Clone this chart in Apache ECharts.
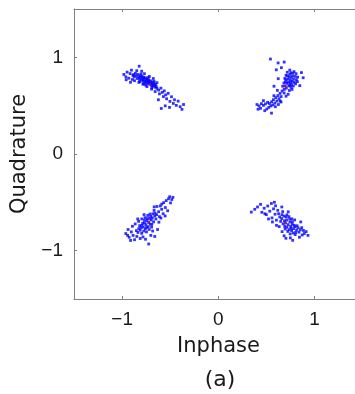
<!DOCTYPE html>
<html>
<head>
<meta charset="utf-8">
<script src="https://cdn.jsdelivr.net/npm/echarts@6/dist/echarts.min.js"></script>
<style>
  html, body { margin: 0; padding: 0; background: #fff; }
  #chart { width: 355px; height: 394px; }
</style>
</head>
<body>
<div id="chart"></div>
<script>
// axis ticks
const tickValues = [-1, 0, 1];

// received symbols, one cluster per quadrant: [Inphase, Quadrature]
const clusterTL = [
  [-0.853,0.808],[-0.842,0.781],[-0.836,0.823],[-0.827,0.796],[-0.819,0.772],[-0.812,0.811],[-0.806,0.789],[-0.798,0.764],[-0.793,0.803],[-0.787,0.781],
  [-0.781,0.752],[-0.776,0.794],[-0.769,0.771],[-0.764,0.746],[-0.758,0.788],[-0.751,0.762],[-0.747,0.737],[-0.741,0.775],[-0.735,0.753],[-0.729,0.729],
  [-0.724,0.768],[-0.718,0.744],[-0.712,0.721],[-0.706,0.757],[-0.701,0.733],[-0.695,0.712],[-0.689,0.746],[-0.683,0.724],[-0.677,0.703],[-0.671,0.735],
  [-0.664,0.712],[-0.658,0.691],[-0.652,0.721],[-0.645,0.698],[-0.638,0.678],[-0.862,0.835],[-0.874,0.797],[-0.881,0.822],[-0.816,0.748],[-0.773,0.726],
  [-0.732,0.791],[-0.691,0.689],[-0.803,0.829],[-0.755,0.712],[-0.668,0.752],
  [-0.982,0.823],[-0.961,0.798],[-0.948,0.847],[-0.931,0.784],[-0.917,0.832],[-0.903,0.867],[-0.894,0.771],[-0.887,0.812],[-0.871,0.758],[-0.848,0.862],
  [-0.826,0.741],[-0.823,0.908],[-0.797,0.857],[-0.784,0.722],[-0.768,0.831],[-0.742,0.697],[-0.717,0.802],[-0.694,0.671],[-0.676,0.781],[-0.657,0.646],
  [-0.638,0.738],[-0.621,0.661],[-0.612,0.622],[-0.597,0.681],[-0.583,0.637],[-0.571,0.594],[-0.562,0.653],[-0.547,0.612],[-0.538,0.571],[-0.521,0.628],
  [-0.503,0.544],[-0.487,0.592],[-0.468,0.523],[-0.456,0.561],[-0.437,0.503],[-0.418,0.547],[-0.397,0.489],[-0.378,0.462],[-0.362,0.512],[-0.552,0.498],
  [-0.593,0.471],[-0.623,0.561],[-0.508,0.482],[-0.958,0.768],[-0.913,0.742]
];

const clusterTR = [
  [0.712,0.731],[0.748,0.762],[0.693,0.704],[0.761,0.718],[0.734,0.796],[0.781,0.774],[0.702,0.768],[0.756,0.689],[0.727,0.742],[0.789,0.741],
  [0.681,0.735],[0.744,0.823],[0.798,0.802],[0.719,0.809],[0.767,0.751],[0.706,0.681],[0.742,0.711],[0.773,0.836],[0.691,0.782],[0.811,0.768],
  [0.738,0.657],[0.779,0.703],[0.724,0.774],[0.758,0.791],[0.802,0.726],[0.668,0.701],[0.716,0.846],[0.786,0.852],[0.749,0.738],[0.731,0.704],
  [0.697,0.746],[0.823,0.795],[0.765,0.668],[0.684,0.668],[0.742,0.868],[0.807,0.831],[0.821,0.748],[0.772,0.808],[0.703,0.814],[0.753,0.841],
  [0.662,0.652],[0.641,0.627],[0.683,0.631],[0.618,0.604],[0.652,0.594],[0.597,0.583],[0.631,0.571],[0.572,0.562],[0.608,0.548],[0.553,0.541],
  [0.587,0.526],[0.531,0.522],[0.566,0.508],[0.512,0.534],[0.546,0.497],[0.489,0.518],[0.524,0.482],[0.468,0.503],[0.447,0.521],[0.423,0.497],
  [0.401,0.512],[0.438,0.472],[0.503,0.465],[0.552,0.423],[0.592,0.489],[0.624,0.512],[0.651,0.538],[0.468,0.552],[0.577,0.603],[0.613,0.658],
  [0.703,0.598],[0.725,0.618],[0.642,0.548],[0.412,0.463],[0.482,0.448],
  [0.541,0.982],[0.621,0.942],[0.684,0.951],[0.602,0.871],[0.655,0.893],[0.863,0.842],[0.881,0.789],[0.846,0.707],[0.578,0.701],[0.622,0.779]
];

const clusterBL = [
  [-0.724,-0.708],[-0.753,-0.731],[-0.698,-0.683],[-0.781,-0.756],[-0.742,-0.692],[-0.709,-0.726],[-0.767,-0.714],[-0.686,-0.661],[-0.729,-0.752],[-0.794,-0.738],
  [-0.673,-0.702],[-0.758,-0.774],[-0.714,-0.667],[-0.812,-0.789],[-0.661,-0.641],[-0.738,-0.668],[-0.803,-0.762],[-0.691,-0.728],[-0.776,-0.797],[-0.649,-0.672],
  [-0.827,-0.771],[-0.746,-0.759],[-0.703,-0.644],[-0.768,-0.687],[-0.681,-0.619],[-0.836,-0.812],[-0.719,-0.781],[-0.658,-0.612],[-0.787,-0.716],[-0.734,-0.636],
  [-0.852,-0.793],[-0.642,-0.628],[-0.797,-0.821],[-0.763,-0.658],[-0.694,-0.756],[-0.621,-0.597],[-0.818,-0.741],[-0.747,-0.806],[-0.668,-0.583],[-0.711,-0.621],
  [-0.962,-0.823],[-0.938,-0.781],[-0.927,-0.862],[-0.904,-0.806],[-0.893,-0.748],[-0.886,-0.842],[-0.871,-0.887],[-0.864,-0.724],[-0.847,-0.853],[-0.829,-0.697],
  [-0.812,-0.874],[-0.796,-0.672],[-0.783,-0.858],[-0.757,-0.882],[-0.724,-0.931],[-0.702,-0.842],[-0.683,-0.797],[-0.661,-0.853],[-0.632,-0.781],[-0.618,-0.706],
  [-0.603,-0.537],[-0.589,-0.572],[-0.574,-0.618],[-0.568,-0.503],[-0.551,-0.554],[-0.542,-0.482],[-0.527,-0.587],[-0.518,-0.463],[-0.506,-0.442],[-0.497,-0.506],
  [-0.484,-0.471],[-0.472,-0.448],[-0.597,-0.663],[-0.638,-0.543],[-0.667,-0.547],[-0.772,-0.627],[-0.838,-0.672],[-0.912,-0.894],[-0.943,-0.842],[-0.553,-0.641],
  [-0.588,-0.518],[-0.612,-0.648]
];

const clusterBR = [
  [0.724,-0.731],[0.752,-0.748],[0.697,-0.712],[0.781,-0.772],[0.743,-0.703],[0.712,-0.758],[0.768,-0.727],[0.686,-0.691],[0.734,-0.783],[0.796,-0.751],
  [0.672,-0.722],[0.761,-0.792],[0.709,-0.683],[0.812,-0.787],[0.658,-0.668],[0.741,-0.673],[0.803,-0.812],[0.689,-0.749],[0.777,-0.817],[0.647,-0.697],
  [0.828,-0.764],[0.753,-0.769],[0.703,-0.651],[0.769,-0.701],[0.681,-0.643],[0.837,-0.808],[0.721,-0.801],[0.661,-0.627],[0.788,-0.738],[0.733,-0.648],
  [0.852,-0.784],[0.638,-0.652],[0.798,-0.834],[0.763,-0.671],[0.694,-0.776],[0.626,-0.618],[0.818,-0.742],[0.746,-0.827],[0.668,-0.596],[0.712,-0.629],
  [0.342,-0.601],[0.378,-0.572],[0.407,-0.548],[0.438,-0.521],[0.452,-0.603],[0.476,-0.561],[0.498,-0.627],[0.513,-0.538],[0.534,-0.592],[0.551,-0.512],
  [0.557,-0.661],[0.573,-0.567],[0.589,-0.623],[0.594,-0.536],[0.603,-0.684],[0.617,-0.583],[0.582,-0.499],[0.659,-0.548],[0.632,-0.751],[0.662,-0.803],
  [0.683,-0.846],[0.702,-0.872],[0.748,-0.868],[0.772,-0.893],[0.856,-0.703],[0.871,-0.838],[0.884,-0.791],[0.893,-0.823],[0.912,-0.803],[0.931,-0.842],
  [0.842,-0.861],[0.866,-0.762],[0.726,-0.598],[0.793,-0.682],[0.483,-0.618],[0.521,-0.672],[0.562,-0.703],[0.604,-0.738]
];

// cluster centroids (small red dots)
const centroids = [[-0.71,0.72],[0.70,0.70],[-0.72,-0.70],[0.69,-0.72]];

// x range is cut at the right edge of the figure (the original box runs to 1.5)
const xMin = -1.5, xMax = 1.43;
const yMin = -1.5, yMax = 1.5;

const tickFont = '"Liberation Sans", Arial, sans-serif';
const nameFont = '"DejaVu Sans", sans-serif';
const axisGray = '#808080';
const textColor = '#1a1a1a';

const fmtTick = (v) => (v < 0 ? '\u2212' + (-v) : String(v));

const chart = echarts.init(document.getElementById('chart'));

const baseAxis = {
  type: 'value',
  splitLine: { show: false },
  axisLine: { show: true, onZero: false, lineStyle: { color: axisGray, width: 1 } },
  axisTick: { show: true, inside: true, length: 3, customValues: tickValues, lineStyle: { color: axisGray } },
  axisLabel: { customValues: tickValues, formatter: fmtTick, color: textColor, fontSize: 19, fontFamily: tickFont, margin: 11 }
};

const option = {
  animation: false,
  title: {
    text: '(a)',
    left: 215,
    top: 364,
    textAlign: 'center',
    textStyle: { fontSize: 22, fontWeight: 'normal', color: textColor, fontFamily: nameFont }
  },
  grid: { show: false, left: 74, top: 9, width: 282, height: 290, outerBoundsMode: 'none', containLabel: false },
  // the box's right side lies outside the cropped figure: keep that strip blank
  graphic: [{
    type: 'rect',
    right: 0,
    top: 10,
    shape: { width: 4, height: 288 },
    style: { fill: '#ffffff' },
    z: 100
  }],
  xAxis: [
    Object.assign({}, baseAxis, {
      min: xMin,
      max: xMax,
      position: 'bottom',
      name: 'Inphase',
      nameLocation: 'middle',
      nameGap: 37,
      nameTextStyle: { fontSize: 21, color: textColor, fontFamily: nameFont, padding: [0, 0, 0, 7] }
    }),
    Object.assign({}, baseAxis, {
      min: xMin,
      max: xMax,
      position: 'top',
      axisLabel: { show: false }
    })
  ],
  yAxis: [
    Object.assign({}, baseAxis, {
      min: yMin,
      max: yMax,
      position: 'left',
      name: 'Quadrature',
      nameLocation: 'middle',
      nameRotate: 90,
      nameGap: 30,
      nameTextStyle: { fontSize: 21, color: textColor, fontFamily: nameFont }
    })
  ],
  series: [clusterTL, clusterTR, clusterBL, clusterBR].map((pts) => ({
    type: 'scatter',
    data: pts,
    symbol: 'rect',
    symbolSize: 2.8,
    itemStyle: { color: '#0000ff' }
  })).concat([{
    type: 'scatter',
    data: centroids,
    symbol: 'rect',
    symbolSize: 2,
    itemStyle: { color: '#ff0000' },
    z: 3
  }])
};

chart.setOption(option);
</script>
</body>
</html>
